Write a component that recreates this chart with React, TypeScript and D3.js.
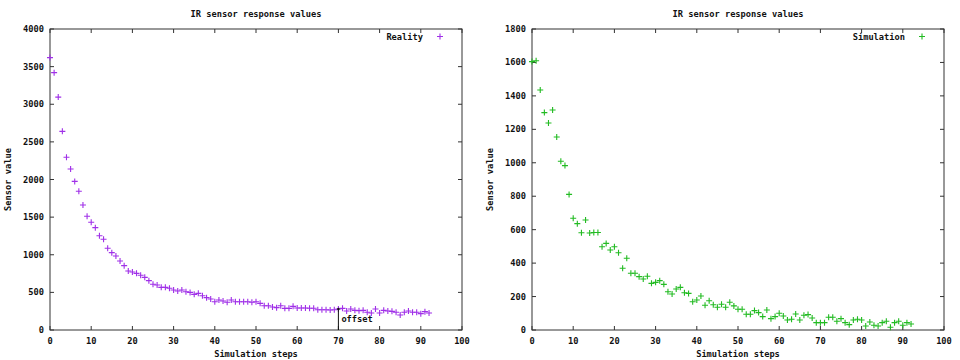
import React from "react";
import * as d3 from "d3";

const TITLE = "IR sensor response values";
const X_LABEL = "Simulation steps";
const Y_LABEL = "Sensor value";

const realityValues: number[] = [
  3620, 3420, 3095, 2640, 2295, 2140, 1975, 1843, 1661, 1511,
  1431, 1360, 1253, 1205, 1086, 1028, 983, 917, 855, 784,
  771, 753, 727, 700, 656, 607, 598, 567, 567, 554,
  531, 518, 531, 509, 500, 474, 487, 456, 430, 412,
  376, 399, 385, 368, 399, 376, 376, 376, 376, 368,
  376, 354, 323, 323, 306, 297, 323, 288, 288, 314,
  292, 292, 292, 290, 290, 270, 270, 270, 265, 270,
  279, 288, 252, 279, 261, 257, 261, 235, 226, 279,
  226, 261, 252, 248, 235, 199, 235, 252, 235, 235,
  217, 244, 226,
];

const simulationValues: number[] = [
  1605, 1610, 1435, 1300, 1238, 1316, 1154, 1009, 983, 811,
  668, 636, 582, 658, 580, 583, 583, 498, 518, 478,
  498, 462, 369, 429, 339, 339, 319, 305, 321, 279,
  285, 295, 273, 229, 215, 245, 255, 223, 219, 169,
  179, 203, 148, 175, 151, 136, 154, 136, 166, 144,
  124, 124, 94, 94, 116, 104, 80, 120, 68, 80,
  100, 84, 60, 64, 96, 60, 88, 92, 72, 44,
  44, 44, 76, 76, 52, 68, 44, 32, 60, 64,
  60, 24, 48, 28, 24, 44, 52, 16, 44, 52,
  28, 44, 36,
];

const xTicks = [0, 10, 20, 30, 40, 50, 60, 70, 80, 90, 100];
const realityYTicks = [0, 500, 1000, 1500, 2000, 2500, 3000, 3500, 4000];
const simulationYTicks = [0, 200, 400, 600, 800, 1000, 1200, 1400, 1600, 1800];

const OFFSET_STEP = 70;

const FONT = "'DejaVu Sans Mono', monospace";
const FS = 8.7;

type PanelProps = {
  left: number;
  right: number;
  values: number[];
  yMax: number;
  yTicks: number[];
  color: string;
  legend: string;
  offsetStep?: number;
};

function Cross({ x, y, color }: { x: number; y: number; color: string }) {
  const s = 3;
  return (
    <path
      d={`M${x - s},${y}H${x + s}M${x},${y - s}V${y + s}`}
      stroke={color}
      strokeWidth={1.1}
      fill="none"
    />
  );
}

function Panel({ left, right, values, yMax, yTicks, color, legend, offsetStep }: PanelProps) {
  const top = 29;
  const bottom = 330;
  const x = d3.scaleLinear().domain([0, 100]).range([left, right]);
  const y = d3.scaleLinear().domain([0, yMax]).range([bottom, top]);
  const cx = (left + right) / 2;
  const tickLen = 4;
  const axisColor = "#333";
  return (
    <g fontFamily={FONT} fontSize={FS} fontWeight="bold" fill="#111">
      <text x={cx} y={17} textAnchor="middle">{TITLE}</text>
      <text x={cx} y={357} textAnchor="middle">{X_LABEL}</text>
      <text
        transform={`translate(${left - 39},${(top + bottom) / 2}) rotate(-90)`}
        textAnchor="middle"
      >
        {Y_LABEL}
      </text>
      {xTicks.map((t) => (
        <g key={"x" + t}>
          <line x1={x(t)} x2={x(t)} y1={bottom} y2={bottom - tickLen} stroke={axisColor} />
          <line x1={x(t)} x2={x(t)} y1={top} y2={top + tickLen} stroke={axisColor} />
          <text x={x(t)} y={344} textAnchor="middle">{t}</text>
        </g>
      ))}
      {yTicks.map((t) => (
        <g key={"y" + t}>
          <line x1={left} x2={left + tickLen} y1={y(t)} y2={y(t)} stroke={axisColor} />
          <line x1={right} x2={right - tickLen} y1={y(t)} y2={y(t)} stroke={axisColor} />
          <text x={left - 6} y={y(t) + 3} textAnchor="end">{t}</text>
        </g>
      ))}
      <rect
        x={left}
        y={top}
        width={right - left}
        height={bottom - top}
        fill="none"
        stroke={axisColor}
        strokeWidth={1}
      />
      {values.map((v, i) => (
        <Cross key={i} x={x(i)} y={y(v)} color={color} />
      ))}
      <text x={right - 39} y={40} textAnchor="end">{legend}</text>
      <Cross x={right - 22} y={36.5} color={color} />
      {offsetStep !== undefined && (
        <g>
          <line
            x1={x(offsetStep)}
            x2={x(offsetStep)}
            y1={y(values[offsetStep])}
            y2={bottom}
            stroke="#111"
            strokeWidth={1}
          />
          <circle cx={x(offsetStep)} cy={y(values[offsetStep])} r={1.3} fill="#111" />
          <text x={x(offsetStep) + 3} y={322}>offset</text>
        </g>
      )}
    </g>
  );
}

export default function App() {
  return (
    <svg width={960} height={360} style={{ display: "block", position: "absolute", left: 0, top: 0 }}>
      <rect width={960} height={360} fill="#fff" />
      <Panel
        left={50}
        right={462}
        values={realityValues}
        yMax={4000}
        yTicks={realityYTicks}
        color="#a030e8"
        legend="Reality"
        offsetStep={OFFSET_STEP}
      />
      <Panel
        left={532}
        right={944}
        values={simulationValues}
        yMax={1800}
        yTicks={simulationYTicks}
        color="#22bb22"
        legend="Simulation"
      />
    </svg>
  );
}
